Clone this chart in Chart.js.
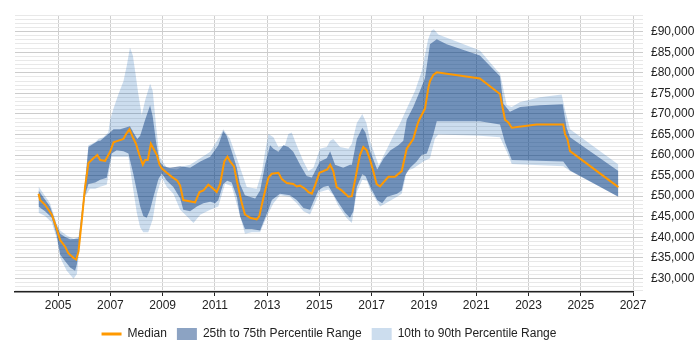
<!DOCTYPE html>
<html>
<head>
<meta charset="utf-8">
<script src="https://cdn.jsdelivr.net/npm/chart.js@4.4.1/dist/chart.umd.min.js"></script>
<style>
  html, body { margin: 0; padding: 0; background: #fff; }
  #wrap { width: 700px; height: 350px; }
</style>
</head>
<body>
<div id="wrap"><canvas id="c" width="700" height="350"></canvas></div>
<script>
// ---- Data (year as decimal, salary in GBP) ----
const medianX = [2004.25,2004.31,2004.50,2004.76,2004.95,2005.08,2005.27,2005.39,2005.59,2005.69,2005.78,2005.91,2006.03,2006.16,2006.35,2006.50,2006.61,2006.80,2006.99,2007.12,2007.31,2007.50,2007.60,2007.73,2007.86,2007.98,2008.11,2008.24,2008.33,2008.43,2008.55,2008.65,2008.78,2008.88,2008.97,2009.16,2009.35,2009.56,2009.67,2009.79,2009.92,2010.24,2010.41,2010.56,2010.75,2010.94,2011.07,2011.20,2011.36,2011.48,2011.58,2011.73,2011.84,2012.03,2012.15,2012.35,2012.60,2012.70,2012.85,2013.05,2013.18,2013.43,2013.56,2013.75,2014.00,2014.13,2014.26,2014.45,2014.58,2014.71,2014.83,2015.00,2015.15,2015.30,2015.41,2015.53,2015.66,2015.85,2016.11,2016.24,2016.36,2016.55,2016.68,2016.81,2016.94,2017.06,2017.19,2017.32,2017.45,2017.64,2017.89,2018.15,2018.34,2018.59,2018.75,2018.82,2019.04,2019.17,2019.23,2019.36,2019.49,2021.14,2021.91,2022.10,2022.23,2022.36,2023.31,2024.33,2024.40,2024.49,2024.59,2026.44];
const medianY = [50600,49050,47900,45500,42000,39300,37700,36150,35000,34600,36550,44350,52200,58050,59200,60000,58800,58600,60800,63100,63500,63900,65100,66250,64300,62750,60000,57650,58800,58800,62750,61550,60000,57650,56700,55700,54700,53750,52550,49050,48900,48500,51000,51400,52800,51800,51000,52950,58450,59600,58450,57250,53750,48250,45550,44750,44350,45150,49450,54550,55450,55700,54150,53200,52950,52350,52550,51800,51000,50600,52550,55700,56100,56500,57650,56100,52200,51400,49850,50000,53750,60000,61950,61150,58800,56100,52950,52350,53350,54700,54700,56100,61550,63900,67400,68600,71300,76400,77950,79500,80100,78600,74850,68600,67950,66650,67400,67400,65100,63900,60950,52200];

const p75X = [2004.25,2004.69,2004.95,2005.08,2005.27,2005.46,2005.78,2006.03,2006.16,2006.35,2006.54,2006.61,2006.99,2007.12,2007.37,2007.56,2007.75,2007.88,2008.03,2008.14,2008.33,2008.52,2008.62,2008.75,2008.88,2009.03,2009.28,2009.67,2010.05,2010.44,2010.82,2011.13,2011.32,2011.45,2011.65,2011.84,2011.96,2012.15,2012.54,2012.73,2012.92,2013.11,2013.24,2013.43,2013.62,2013.81,2014.00,2014.26,2014.51,2014.71,2014.90,2015.02,2015.28,2015.41,2015.60,2015.91,2016.17,2016.24,2016.43,2016.64,2016.76,2016.95,2017.21,2017.46,2017.72,2018.02,2018.21,2018.34,2018.59,2018.85,2019.04,2019.23,2019.49,2019.87,2021.14,2021.91,2022.04,2022.29,2022.68,2023.44,2024.31,2024.46,2024.59,2026.44];
const p75Y = [51400,47500,42800,40850,40050,39500,39650,52950,61950,62750,63500,63500,65450,66250,66250,66650,67000,65450,63900,64700,68600,72100,69350,63100,58450,57250,56900,57250,56900,58450,59600,62350,65850,64700,60800,56900,52950,50200,49450,51400,57650,62350,61550,60800,62350,61950,60800,57650,54900,54550,56900,58450,59200,60900,57650,56900,57650,57650,63900,66650,65450,60800,56500,59200,61150,62350,63500,68600,71700,75650,78750,86950,88150,86950,84200,79150,72500,70550,71700,72100,72350,66650,64300,56100];

const p25X = [2004.25,2004.50,2004.76,2004.95,2005.08,2005.27,2005.46,2005.65,2005.72,2005.84,2006.03,2006.16,2006.42,2006.61,2006.86,2007.05,2007.24,2007.50,2007.69,2007.88,2008.01,2008.14,2008.26,2008.39,2008.52,2008.65,2008.84,2008.97,2009.16,2009.41,2009.67,2009.79,2010.05,2010.31,2010.56,2010.82,2011.01,2011.13,2011.32,2011.47,2011.64,2011.84,2011.96,2012.15,2012.41,2012.73,2012.85,2013.05,2013.18,2013.49,2013.87,2014.13,2014.39,2014.64,2014.77,2014.96,2015.15,2015.34,2015.66,2015.98,2016.17,2016.30,2016.43,2016.64,2016.76,2016.95,2017.21,2017.40,2017.59,2017.97,2018.15,2018.28,2018.47,2018.72,2018.91,2019.11,2019.36,2019.49,2021.14,2021.91,2022.10,2022.36,2024.33,2024.59,2026.44];
const p25Y = [47500,46350,44750,40450,35750,34200,32650,31850,33450,40450,50200,52950,53350,54000,54500,60400,61150,60950,60400,55300,51400,47500,45150,44750,46700,49850,54150,55500,53750,52200,49500,46700,46350,47500,48250,48650,48250,49050,52950,53750,53350,49850,45150,42000,42000,41650,43600,46700,49050,50600,50200,49050,47100,46700,48650,51400,52200,52550,49050,45950,44750,46350,52200,55300,54900,52200,49050,48250,49850,50600,51400,55000,56900,58450,60000,60400,65000,68200,68200,67400,63100,58800,58450,56250,49850];

const p90X = [2004.25,2004.69,2004.95,2005.08,2005.33,2005.59,2005.81,2006.03,2006.16,2006.42,2006.54,2006.73,2006.92,2006.99,2007.12,2007.31,2007.50,2007.63,2007.75,2007.86,2007.95,2008.07,2008.20,2008.33,2008.52,2008.62,2008.75,2008.88,2009.03,2009.16,2009.54,2009.79,2010.05,2010.44,2010.82,2011.20,2011.32,2011.58,2011.84,2012.22,2012.60,2012.80,2012.92,2013.05,2013.24,2013.43,2013.68,2013.81,2013.94,2014.13,2014.39,2014.58,2014.77,2015.02,2015.28,2015.41,2015.53,2015.79,2016.11,2016.24,2016.43,2016.64,2016.80,2016.95,2017.27,2017.53,2017.83,2018.09,2018.40,2018.66,2018.91,2019.16,2019.29,2019.38,2019.55,2021.14,2021.78,2021.91,2022.17,2022.36,2022.68,2023.44,2024.27,2024.40,2024.59,2026.44];
const p90Y = [52350,48250,43200,41650,40450,39650,40050,53750,62350,63100,63900,64300,65450,68600,71300,74850,77950,81850,86150,84200,80300,74850,69750,73300,77350,75650,67000,59600,58050,56900,56500,57250,57650,59200,60800,64700,66250,63900,59200,52200,51800,56000,60800,65100,64300,61950,62350,65100,65450,62350,58450,56100,56900,61550,61950,63500,63900,61950,61500,62750,67800,70000,67800,63100,57500,60800,64700,67800,72100,75650,80300,88150,90300,90600,89300,85400,80700,79900,72100,71700,72900,74050,74700,70950,66250,57700];

const p10X = [2004.25,2004.50,2004.76,2004.95,2005.08,2005.33,2005.59,2005.72,2005.84,2006.03,2006.22,2006.42,2006.61,2006.86,2007.05,2007.69,2007.88,2008.01,2008.14,2008.26,2008.45,2008.62,2008.78,2008.97,2009.16,2009.41,2009.67,2010.05,2010.18,2010.44,2010.82,2011.13,2011.39,2011.64,2011.90,2012.15,2012.41,2012.73,2012.98,2013.24,2013.49,2013.87,2014.13,2014.39,2014.64,2014.83,2015.02,2015.34,2015.53,2015.72,2016.04,2016.24,2016.43,2016.64,2016.82,2016.95,2017.32,2017.64,2017.97,2018.15,2018.28,2018.34,2018.59,2018.98,2019.23,2019.42,2019.55,2021.14,2021.91,2022.17,2022.36,2024.33,2024.59,2026.44];
const p10Y = [45950,45150,43600,39650,35000,31850,29900,31050,38900,49850,51800,51800,52300,52800,59600,59600,51400,45950,42400,41250,41250,44350,50600,54500,52200,50600,46700,44350,43500,45500,46700,47500,53000,52500,46700,40850,41250,41250,45000,48250,50200,49850,48250,46350,45550,48250,51000,51600,50200,47700,44700,43500,51000,54000,53750,51400,47500,48650,49850,50600,54150,56100,56700,58450,59200,64000,65000,64700,64300,60800,57800,57250,56100,49850];

const xTickYears = [2005,2007,2009,2011,2013,2015,2017,2019,2021,2023,2025,2027];
const legendNames = ['Median','25th to 75th Percentile Range','10th to 90th Percentile Range'];

// ---- Styles ----
const ORANGE = 'rgb(255,153,0)';
const DARK = 'rgba(0,52,122,0.45)';
const LIGHT = 'rgba(0,85,170,0.2)';
const FONT = { family: '"Liberation Sans", Arial, sans-serif', size: 12 };

const pts = (xs, ys) => xs.map((x, i) => ({ x: x, y: ys[i] }));
const bandBase = { pointRadius: 0, pointHoverRadius: 0, borderWidth: 0, borderColor: 'rgba(0,0,0,0)', tension: 0 };

const yTicks = [];
for (let v = 27000; v <= 94000; v += 1000) yTicks.push(v);

const shiftLegend = {
  id: 'shiftLegend',
  afterLayout(chart) {
    if (chart.legend) { chart.legend.left += 5; chart.legend.right += 5; }
  }
};

new Chart(document.getElementById('c'), {
  type: 'line',
  plugins: [shiftLegend],
  data: {
    datasets: [
      { label: legendNames[0], data: pts(medianX, medianY), borderColor: ORANGE, backgroundColor: ORANGE, borderWidth: 2, pointRadius: 0, fill: false, tension: 0 },
      Object.assign({ label: legendNames[1], data: pts(p75X, p75Y), backgroundColor: DARK, fill: '+1' }, bandBase),
      Object.assign({ label: 'p25', data: pts(p25X, p25Y), backgroundColor: DARK, fill: false }, bandBase),
      Object.assign({ label: legendNames[2], data: pts(p90X, p90Y), backgroundColor: LIGHT, fill: '+1' }, bandBase),
      Object.assign({ label: 'p10', data: pts(p10X, p10Y), backgroundColor: LIGHT, fill: false }, bandBase)
    ]
  },
  options: {
    responsive: false,
    animation: false,
    devicePixelRatio: 1,
    layout: { padding: { left: 15, top: 5, right: 0, bottom: 0 } },
    plugins: {
      tooltip: { enabled: false },
      legend: {
        position: 'bottom',
        fullSize: false,
        labels: {
          font: FONT,
          color: '#222',
          usePointStyle: true,
          pointStyleWidth: 20,
          boxHeight: 12,
          padding: 10,
          generateLabels: () => [
            { text: legendNames[0], fillStyle: ORANGE, strokeStyle: ORANGE, lineWidth: 3, pointStyle: 'line', hidden: false, datasetIndex: 0, fontColor: '#222' },
            { text: legendNames[1], fillStyle: DARK, strokeStyle: DARK, lineWidth: 0, pointStyle: 'rect', hidden: false, datasetIndex: 1, fontColor: '#222' },
            { text: legendNames[2], fillStyle: LIGHT, strokeStyle: LIGHT, lineWidth: 0, pointStyle: 'rect', hidden: false, datasetIndex: 3, fontColor: '#222' }
          ]
        }
      }
    },
    scales: {
      x: {
        type: 'linear',
        min: 2003.35,
        max: 2027,
        afterBuildTicks: (s) => { s.ticks = xTickYears.map(v => ({ value: v })); },
        afterFit: (s) => { s.height = 26; },
        ticks: { font: FONT, color: '#222', padding: 2, maxRotation: 0, autoSkip: false, callback: (v) => String(v) },
        grid: { color: '#cfcfcf', tickLength: 4, drawTicks: true, tickColor: '#222' },
        border: { display: true, color: '#222', width: 1.5 }
      },
      y: {
        type: 'linear',
        position: 'right',
        min: 26700,
        max: 94000,
        afterBuildTicks: (s) => { s.ticks = yTicks.map(v => ({ value: v })); },
        afterFit: (s) => { s.width = 67; },
        ticks: {
          font: FONT, color: '#222', padding: 8, autoSkip: false,
          callback: (v) => (v % 5000 === 0 ? '£' + v.toLocaleString('en-GB') : '')
        },
        grid: {
          tickLength: 10,
          color: (c) => (c.tick && c.tick.value % 5000 === 0 ? '#cccccc' : '#e8e8e8')
        },
        border: { display: false }
      }
    }
  }
});
</script>
</body>
</html>
